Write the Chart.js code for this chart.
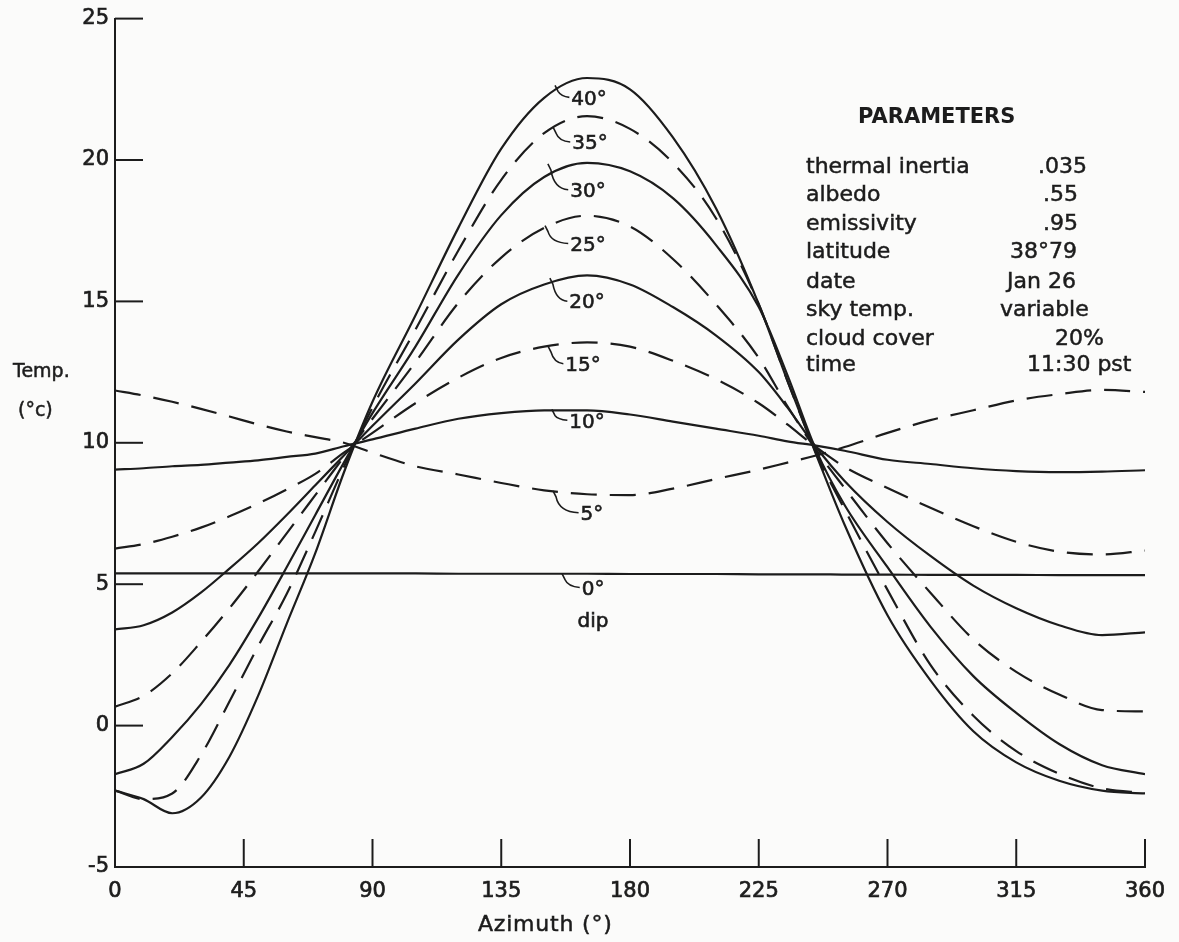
<!DOCTYPE html>
<html>
<head>
<meta charset="utf-8">
<script src="https://cdn.jsdelivr.net/npm/chart.js@4.4.0/dist/chart.umd.min.js"></script>
<style>
  body { margin: 0; background: #fbfbfa; overflow: hidden; }
  #wrap { position: relative; width: 1179px; height: 942px; font-family: 'DejaVu Sans', sans-serif; color: #1c1c1c; }
  #wrap canvas { position: absolute; left: 0; top: 0; }
  .txt { position: absolute; white-space: nowrap; font-size: 22px; line-height: 1; -webkit-text-stroke: 0.5px #1c1c1c; }
</style>
</head>
<body>
<div id="wrap">
  <canvas id="tempChart"></canvas>
  <div class="txt" style="left:13px; top:361px; font-size:19px">Temp.</div>
  <div class="txt" style="left:18px; top:400px; font-size:19px">(°c)</div>
  <div class="txt" style="left:478px; top:913px; font-size:22px; letter-spacing:0.8px">Azimuth (°)</div>

  <div class="txt" style="left:858px; top:106px; font-size:21px; font-weight:bold; -webkit-text-stroke:0">PARAMETERS</div>
  <div class="txt" style="left:806px; top:155px">thermal inertia</div>
  <div class="txt" style="left:806px; top:183px">albedo</div>
  <div class="txt" style="left:806px; top:212px">emissivity</div>
  <div class="txt" style="left:806px; top:240px">latitude</div>
  <div class="txt" style="left:806px; top:270px">date</div>
  <div class="txt" style="left:806px; top:298px">sky temp.</div>
  <div class="txt" style="left:806px; top:327px">cloud cover</div>
  <div class="txt" style="left:806px; top:353px">time</div>
  <div class="txt" style="left:1038px; top:155px">.035</div>
  <div class="txt" style="left:1043px; top:183px">.55</div>
  <div class="txt" style="left:1043px; top:212px">.95</div>
  <div class="txt" style="left:1010px; top:240px">38°79</div>
  <div class="txt" style="left:1007px; top:270px">Jan 26</div>
  <div class="txt" style="left:1000px; top:298px">variable</div>
  <div class="txt" style="left:1055px; top:327px">20%</div>
  <div class="txt" style="left:1027px; top:353px">11:30 pst</div>
</div>
<script>
// azimuth in degrees, temperature in °C, one series per dip angle
const azimuth = [0, 10, 20, 30, 40, 50, 60, 70, 80, 90, 105, 120, 135, 150, 165, 180, 195, 210, 225, 235, 245, 255, 270, 285, 300, 315, 330, 345, 360];

const dip0  = [5.38, 5.38, 5.38, 5.38, 5.38, 5.38, 5.38, 5.38, 5.38, 5.38, 5.38, 5.37, 5.37, 5.37, 5.37, 5.36, 5.36, 5.36, 5.35, 5.35, 5.35, 5.34, 5.34, 5.33, 5.33, 5.33, 5.32, 5.32, 5.32];
const dip5  = [11.85, 11.67, 11.45, 11.2, 10.93, 10.65, 10.4, 10.2, 10.0, 9.65, 9.17, 8.88, 8.58, 8.32, 8.18, 8.15, 8.38, 8.72, 9.05, 9.3, 9.55, 9.85, 10.35, 10.8, 11.15, 11.5, 11.72, 11.87, 11.8];
const dip10 = [9.05, 9.1, 9.17, 9.22, 9.3, 9.38, 9.5, 9.62, 9.88, 10.12, 10.5, 10.85, 11.05, 11.15, 11.15, 11.0, 10.75, 10.5, 10.25, 10.05, 9.9, 9.72, 9.4, 9.25, 9.1, 9.0, 8.96, 8.98, 9.03];
const dip15 = [6.26, 6.42, 6.68, 7.0, 7.4, 7.85, 8.35, 8.9, 9.65, 10.35, 11.4, 12.3, 13.0, 13.4, 13.55, 13.4, 12.9, 12.25, 11.4, 10.65, 9.85, 9.15, 8.4, 7.7, 7.05, 6.5, 6.15, 6.05, 6.19];
const dip20 = [3.4, 3.55, 4.0, 4.7, 5.55, 6.45, 7.45, 8.5, 9.55, 10.6, 12.1, 13.65, 14.9, 15.6, 15.92, 15.6, 14.8, 13.8, 12.5, 11.25, 9.85, 8.65, 7.2, 6.0, 4.95, 4.15, 3.55, 3.2, 3.3];
const dip25 = [0.67, 1.05, 1.85, 2.95, 4.15, 5.45, 6.8, 8.15, 9.5, 10.85, 12.85, 14.95, 16.55, 17.6, 18.03, 17.65, 16.5, 14.9, 13.0, 11.3, 9.75, 8.4, 6.45, 4.7, 3.05, 1.9, 1.1, 0.55, 0.5];
const dip30 = [-1.72, -1.35, -0.4, 0.75, 2.15, 3.8, 5.6, 7.45, 9.3, 11.05, 13.4, 15.95, 18.05, 19.4, 19.9, 19.6, 18.65, 17.0, 14.8, 12.4, 9.75, 7.8, 5.6, 3.5, 1.75, 0.45, -0.65, -1.4, -1.72];
const dip35 = [-2.3, -2.6, -2.4, -1.05, 0.85, 2.8, 4.65, 6.85, 9.15, 11.25, 14.0, 16.8, 19.3, 20.95, 21.55, 21.1, 19.9, 17.95, 14.9, 12.2, 9.65, 7.65, 4.8, 2.15, 0.35, -0.9, -1.7, -2.22, -2.38];
const dip40 = [-2.3, -2.6, -3.1, -2.55, -1.1, 1.05, 3.6, 6.1, 8.95, 11.45, 14.5, 17.6, 20.4, 22.2, 22.9, 22.5, 20.8, 18.3, 14.9, 12.2, 9.6, 7.1, 3.9, 1.6, -0.2, -1.3, -1.95, -2.3, -2.4];

const dipNames = ['0°', '5°', '10°', '15°', '20°', '25°', '30°', '35°', '40°'];
const dipSeries = [dip0, dip5, dip10, dip15, dip20, dip25, dip30, dip35, dip40];

// where each curve label sits (azimuth, temp) and where its little leader starts on the curve
const labelAz   = [167.1, 166.7, 165.0, 163.6, 165.0, 165.3, 165.3, 166.0, 165.7];
const labelTemp = [4.85, 7.49, 10.76, 12.76, 14.97, 17.01, 18.91, 20.6, 22.18];
const leadAz    = [156.2, 153.1, 152.7, 151.3, 152.0, 150.3, 151.3, 153.1, 153.8];
const leadTemp  = [5.38, 8.30, 11.18, 13.43, 15.82, 17.68, 19.86, 21.16, 22.64];

const ink = '#1c1c1c';
const tickFont = { family: 'DejaVu Sans', size: 21 };

const datasets = dipSeries.map((vals, i) => ({
  label: dipNames[i],
  data: azimuth.map((a, j) => ({ x: a, y: vals[j] })),
  borderColor: ink,
  borderWidth: 2.2,
  borderDash: i % 2 === 1 ? [26, 13] : [],
  pointRadius: 0,
  cubicInterpolationMode: 'monotone',
  fill: false
}));

const inwardTicks = {
  id: 'inwardTicks',
  afterDatasetsDraw(chart) {
    const ctx = chart.ctx;
    const area = chart.chartArea;
    const xs = chart.scales.x;
    const ys = chart.scales.y;
    ctx.save();
    ctx.strokeStyle = ink;
    ctx.lineWidth = 2;
    ys.ticks.forEach(t => {
      const py = ys.getPixelForValue(t.value);
      ctx.beginPath();
      ctx.moveTo(area.left, py);
      ctx.lineTo(area.left + 28, py);
      ctx.stroke();
    });
    xs.ticks.forEach(t => {
      const px = xs.getPixelForValue(t.value);
      ctx.beginPath();
      ctx.moveTo(px, area.bottom);
      ctx.lineTo(px, area.bottom - 28);
      ctx.stroke();
    });

    // curve labels with hooked leaders
    ctx.fillStyle = ink;
    ctx.font = '20px "DejaVu Sans"';
    ctx.textAlign = 'center';
    ctx.textBaseline = 'middle';
    dipNames.forEach((name, i) => {
      const tx = xs.getPixelForValue(labelAz[i]);
      const ty = ys.getPixelForValue(labelTemp[i]);
      const sx = xs.getPixelForValue(leadAz[i]);
      const sy = ys.getPixelForValue(leadTemp[i]);
      const w = ctx.measureText(name).width;
      ctx.lineWidth = 1.6;
      ctx.beginPath();
      ctx.moveTo(sx, sy);
      ctx.lineTo(sx + 3, sy + 6);
      ctx.quadraticCurveTo(sx + 6, ty - 2, tx - w / 2 - 2, ty - 1);
      ctx.stroke();
      ctx.lineWidth = 0.6;
      ctx.fillText(name, tx, ty + 1);
      ctx.strokeText(name, tx, ty + 1);
    });
    const dx = xs.getPixelForValue(labelAz[0]);
    const dy = ys.getPixelForValue(labelTemp[0]) + 33;
    ctx.fillText('dip', dx, dy);
    ctx.strokeText('dip', dx, dy);
    ctx.restore();
  }
};

new Chart(document.getElementById('tempChart'), {
  type: 'line',
  data: { datasets: datasets },
  options: {
    responsive: true,
    maintainAspectRatio: false,
    animation: false,
    layout: { padding: { left: 0, top: 15, right: 34, bottom: 0 } },
    plugins: { legend: { display: false }, tooltip: { enabled: false } },
    scales: {
      x: {
        type: 'linear',
        min: 0,
        max: 360,
        afterFit(scale) { scale.height = 75; },
        border: { display: true, color: ink, width: 2 },
        grid: { display: false, drawTicks: false },
        ticks: { stepSize: 45, color: ink, font: tickFont, padding: 12, maxRotation: 0, textStrokeColor: ink, textStrokeWidth: 0.7 }
      },
      y: {
        min: -5,
        max: 25,
        afterFit(scale) { scale.width = 115; },
        border: { display: true, color: ink, width: 2 },
        grid: { display: false, drawTicks: false },
        ticks: { stepSize: 5, color: ink, font: tickFont, padding: 6, textStrokeColor: ink, textStrokeWidth: 0.7 }
      }
    }
  },
  plugins: [inwardTicks]
});
</script>
</body>
</html>
